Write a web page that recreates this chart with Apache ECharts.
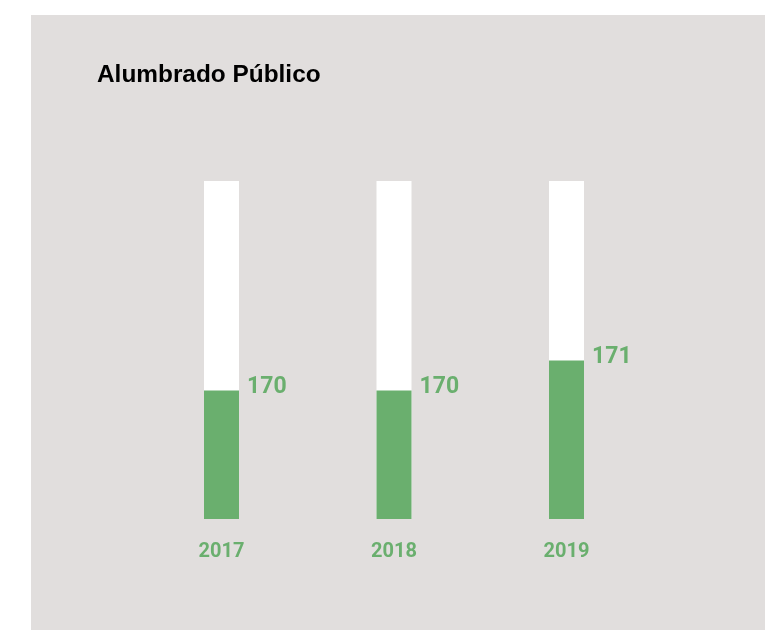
<!DOCTYPE html>
<html>
<head>
<meta charset="utf-8">
<script src="https://cdn.jsdelivr.net/npm/echarts@6/dist/echarts.min.js"></script>
<style>
html,body{margin:0;padding:0;background:#ffffff;}
#chart{width:779px;height:630px;}
</style>
</head>
<body>
<div id="chart"></div>
<script>
const title = 'Alumbrado Público';
const years = ['2017', '2018', '2019'];
const values = [170, 170, 171];

const green = '#6AAF6E';
const chart = echarts.init(document.getElementById('chart'));
chart.setOption({
  backgroundColor: '#ffffff',
  animation: false,
  graphic: [{
    type: 'rect',
    z: -10,
    shape: {x: 31, y: 15, width: 734, height: 620},
    style: {fill: '#E1DEDD'}
  }, {
    type: 'text',
    x: 97,
    y: 75,
    style: {
      text: title,
      fill: '#000000',
      fontFamily: 'Liberation Sans',
      fontWeight: 'bold',
      fontSize: 24.4,
      verticalAlign: 'middle',
      align: 'left'
    }
  }],
  grid: {left: 135.25, right: 126.25, top: 181, bottom: 111},
  xAxis: {
    type: 'category',
    data: years,
    axisLine: {show: false},
    axisTick: {show: false},
    axisLabel: {color: green, fontFamily: 'Roboto', fontWeight: 'bold', fontSize: 20, margin: 23}
  },
  yAxis: {
    type: 'value',
    min: 165.7,
    max: 177,
    show: false,
    splitLine: {show: false}
  },
  series: [{
    type: 'bar',
    data: values,
    barWidth: 35,
    showBackground: true,
    backgroundStyle: {color: '#ffffff'},
    itemStyle: {color: green},
    label: {
      show: true,
      position: [43, -3.3],
      align: 'left',
      verticalAlign: 'middle',
      color: green,
      fontFamily: 'Roboto',
      fontWeight: 'bold',
      fontSize: 23
    }
  }]
});
</script>
</body>
</html>
